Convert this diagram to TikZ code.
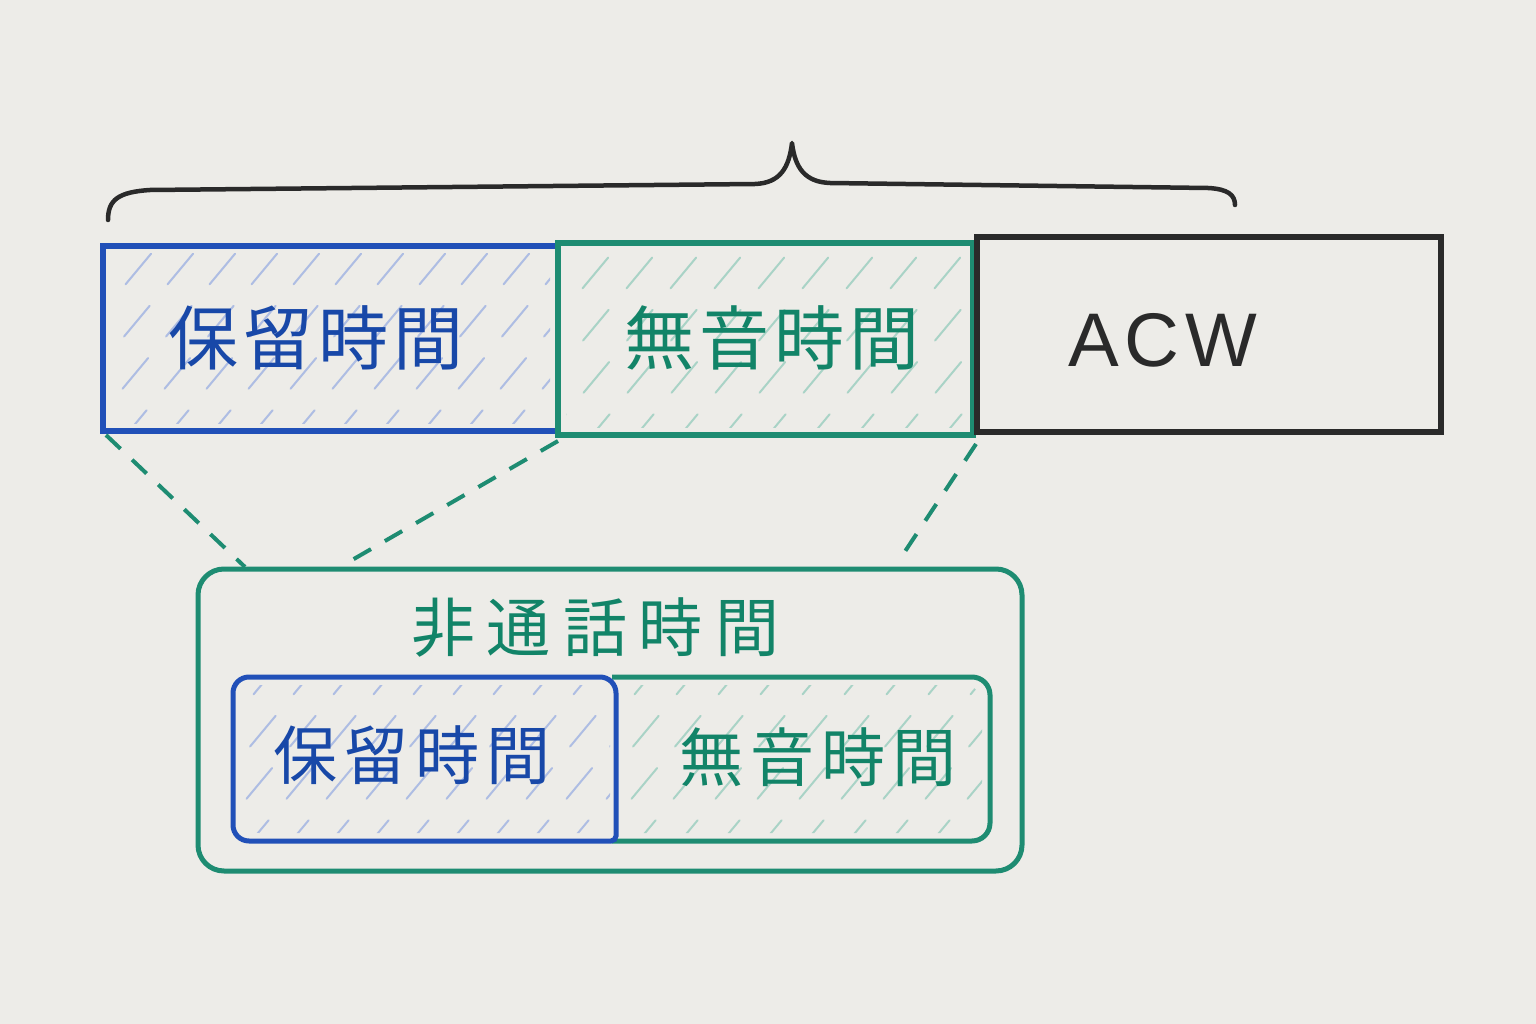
\documentclass[tikz,border=0pt]{standalone}
\usepackage{fontspec}
\newfontfamily\jp{Noto Sans CJK JP}
\newfontfamily\acwfont{Liberation Sans}
\usetikzlibrary{calc}
\definecolor{bg}{HTML}{EDECE8}
\definecolor{mblue}{HTML}{2150B8}
\definecolor{mgreen}{HTML}{1E8C72}
\definecolor{mblack}{HTML}{2A2A2A}
\definecolor{hblue}{HTML}{AEBDE3}
\definecolor{hgreen}{HTML}{A9D3C6}
\definecolor{tblue}{HTML}{1848A8}
\definecolor{tgreen}{HTML}{128468}
\newcommand\gp{\hspace{5pt}}
\newcommand\gq{\hspace{7pt}}
\newcommand\gr{\hspace{12pt}}
\begin{document}
\begin{tikzpicture}[x=1pt,y=-1pt,
  box/.style={draw, line width=5.5pt, inner sep=0pt, outer sep=0pt},
  ghost/.style={draw=none, inner sep=0pt, outer sep=0pt},
  hatchline/.style={line width=2pt, dash pattern=on 40pt off 28pt, line cap=round},
  dashlink/.style={draw=mgreen, line width=4pt, dash pattern=on 20pt off 16pt},
  bracestyle/.style={draw=mblack, line width=4.5pt, line cap=round, line join=round},
  jtxt/.style={inner sep=0pt, font=\jp},
]
\fill[bg] (0,0) rectangle (1536,1024);
\useasboundingbox (0,0) rectangle (1536,1024);

% ---------- top row boxes ----------
\node[ghost, minimum width=455pt, minimum height=185pt] (hold) at (330.5,338.5) {};
\node[ghost, minimum width=415pt, minimum height=192pt] (silent) at (765.5,339) {};
\node[ghost, minimum width=464pt, minimum height=195pt] (acw) at (1209,334.5) {};

% hatching top
\begin{scope}
  \clip ($(hold.north west)+(8,8)$) rectangle ($(hold.south east)+(-8,-8)$);
  \foreach \x in {0,42,...,760}
    \draw[hatchline, hblue] ($(hold.south west)+(\x-150,10)$) -- ++(250,-300);
\end{scope}
\begin{scope}
  \clip ($(silent.north west)+(8,8)$) rectangle ($(silent.south east)+(-8,-8)$);
  \foreach \x in {0,44,...,720}
    \draw[hatchline, hgreen] ($(silent.south west)+(\x-150,10)$) -- ++(250,-300);
\end{scope}

\draw[box, draw=mblue] (hold.north west) rectangle (hold.south east);
\draw[box, draw=mgreen] (silent.north west) rectangle (silent.south east);
\draw[box, draw=mblack] (acw.north west) rectangle (acw.south east);

% ---------- brace ----------
\draw[bracestyle] (108,220) .. controls (108,200) and (118,192) .. (150,190)
  -- (755,184) .. controls (780,183) and (789,168) .. (792,143)
  .. controls (795,168) and (805,182) .. (830,183)
  -- (1208,188) .. controls (1228,189) and (1235,195) .. (1235,205);

% ---------- lower group ----------
\node[box, draw=mgreen, line width=5pt, rounded corners=26pt, minimum width=824pt, minimum height=302pt] (outer) at (610,720) {};
\node[ghost, minimum width=383pt, minimum height=164pt] (hold2) at (424.5,759) {};
\node[ghost, minimum width=378pt, minimum height=164pt] (silent2) at (801,759) {};

\begin{scope}
  \clip[rounded corners=18pt] ($(silent2.north west)+(6,8)$) rectangle ($(silent2.south east)+(-8,-8)$);
  \foreach \x in {0,42,...,680}
    \draw[hatchline, hgreen] ($(silent2.south west)+(\x-150,10)$) -- ++(250,-300);
\end{scope}
\begin{scope}
  \clip[rounded corners=18pt] ($(hold2.north west)+(8,8)$) rectangle ($(hold2.south east)+(-6,-8)$);
  \foreach \x in {0,40,...,680}
    \draw[hatchline, hblue] ($(hold2.south west)+(\x-150,10)$) -- ++(250,-300);
\end{scope}

\draw[line width=5pt, draw=mgreen, rounded corners=18pt]
  (silent2.north west) -- (silent2.north east) -- (silent2.south east) -- (silent2.south west);
\draw[line width=5pt, draw=mblue, rounded corners=16pt]
  (hold2.north west) -- (hold2.north east) [rounded corners=5pt] -- (hold2.south east) [rounded corners=16pt] -- (hold2.south west) -- cycle;

% ---------- dashed links ----------
\coordinate (o1) at ($(outer.north west)+(47,-2)$);
\coordinate (o2) at ($(outer.north west)+(142,-2)$);
\coordinate (o3) at ($(outer.north west)+(700,-7)$);
\draw[dashlink] ($(hold.south west)+(3,4)$) -- (o1);
\draw[dashlink] ($(hold.south east)+(0,10)$) -- (o2);
\draw[dashlink] ($(silent.south east)+(3,9)$) -- (o3);

% ---------- texts ----------
\node[jtxt, text=tblue] (t1) at (316,338) {\fontsize{70}{70}\selectfont 保\gp 留\gp 時\gp 間};
\node[jtxt, text=tgreen] (t2) at (772,338) {\fontsize{70}{70}\selectfont 無\gp 音\gp 時\gp 間};
\node[inner sep=0pt, text=mblack] (t3) at (1163,340) {\acwfont\fontsize{76}{76}\selectfont A\hspace{6pt}C\hspace{6pt}W};
\node[jtxt, text=tgreen] (t4) at (595,627) {\fontsize{64}{64}\selectfont 非\gr 通\gr 話\gr 時\gr 間};
\node[jtxt, text=tblue] (t5) at (412,755) {\fontsize{64}{64}\selectfont 保\gq 留\gq 時\gq 間};
\node[jtxt, text=tgreen] (t6) at (818,757) {\fontsize{64}{64}\selectfont 無\gq 音\gq 時\gq 間};
\end{tikzpicture}
\end{document}
